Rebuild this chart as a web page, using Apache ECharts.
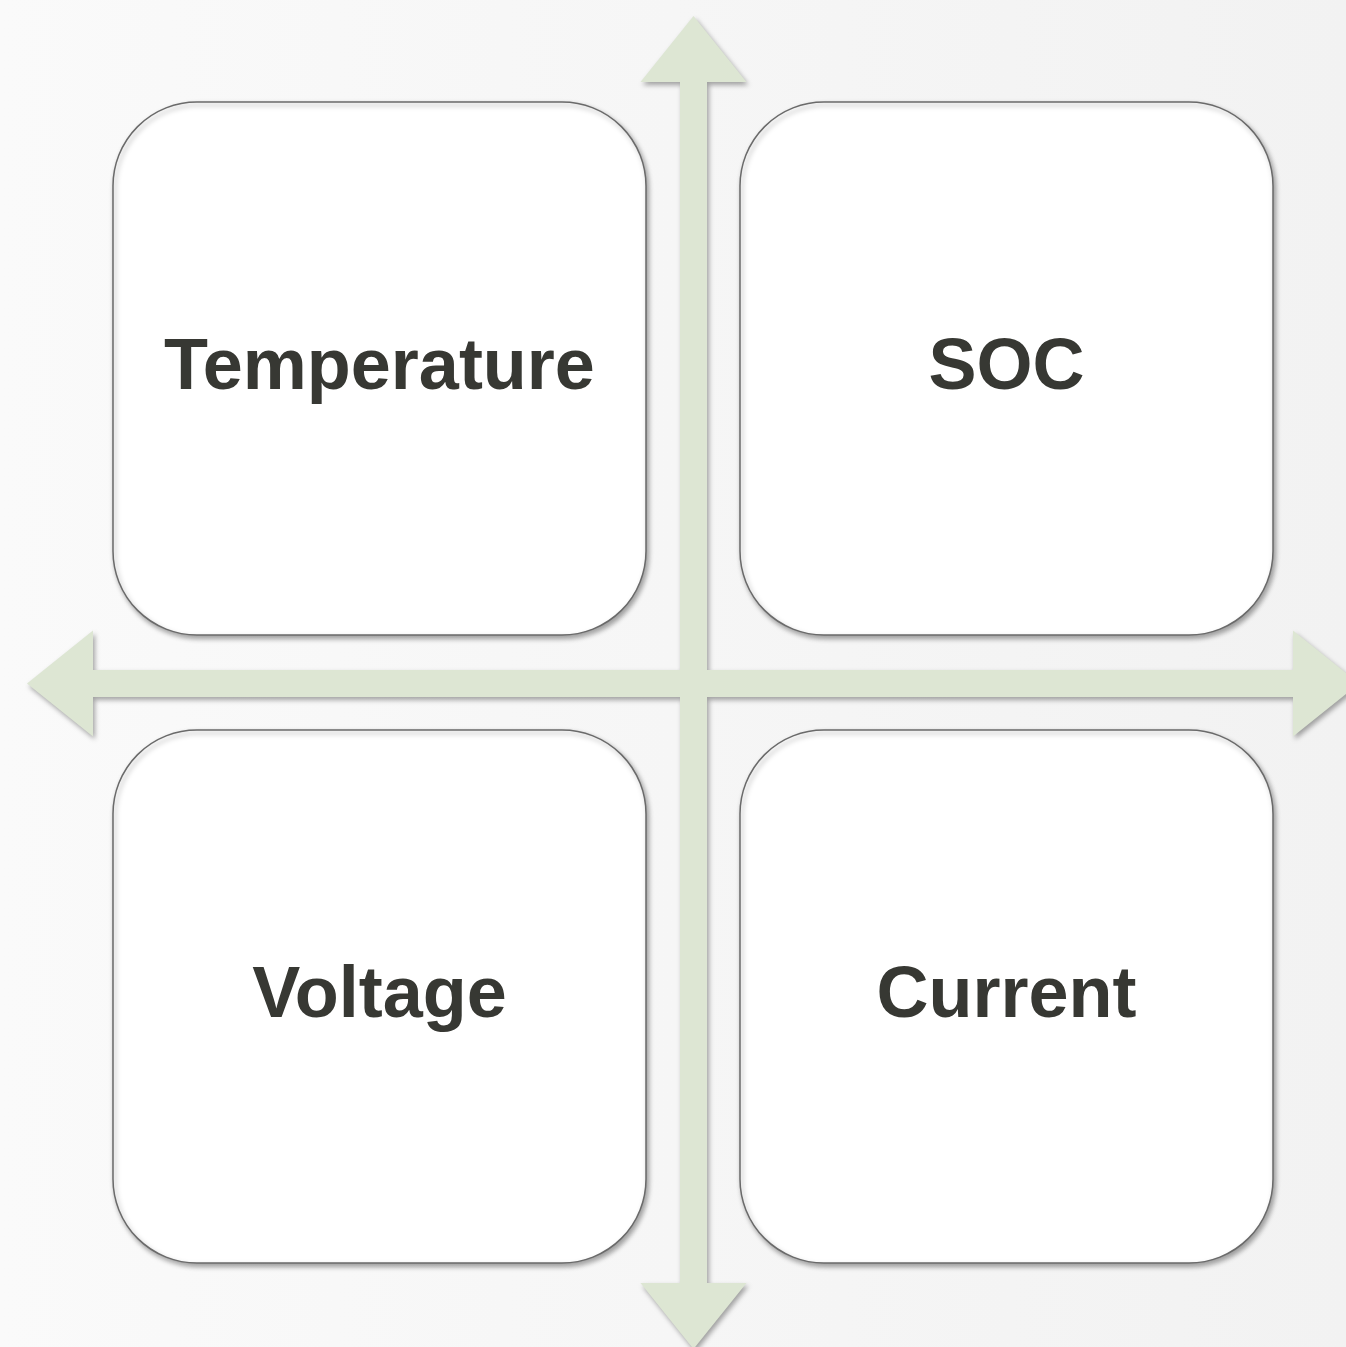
<!DOCTYPE html>
<html>
<head>
<meta charset="utf-8">
<script src="https://cdn.jsdelivr.net/npm/echarts@6/dist/echarts.min.js"></script>
<style>
html,body{margin:0;padding:0;}
#c{width:1346px;height:1347px;}
</style>
</head>
<body>
<div id="c"></div>
<script>
// Diagram content
const labels = ['Temperature', 'SOC', 'Voltage', 'Current'];
const cols = [0, 1, 0, 1];   // quadrant column
const rows = [0, 0, 1, 1];   // quadrant row

// Layout (pixel-space axes 0..1346)
const boxX = [113, 740];
const boxY = [102, 730];
const boxW = 533, boxH = 533, boxR = 84;
const crossX = 693.5, crossY = 683.5, shaftHalf = 13.5;
const headHalf = 53, headLen = 66;
const tipTop = 16, tipBottom = 1349, tipLeft = 27, tipRight = 1359;

const arrowColor = '#dde6d3';

const chart = echarts.init(document.getElementById('c'), null, {renderer: 'canvas'});

function arrowPts() {
  const cx = crossX, cy = crossY;
  const sL = cx - shaftHalf, sR = cx + shaftHalf, sT = cy - shaftHalf, sB = cy + shaftHalf;
  const hT = tipTop + headLen, hB = tipBottom - headLen, hL = tipLeft + headLen, hR = tipRight - headLen;
  return [
    [cx, tipTop], [cx + headHalf, hT], [sR, hT], [sR, sT],
    [hR, sT], [hR, cy - headHalf], [tipRight, cy], [hR, cy + headHalf], [hR, sB],
    [sR, sB], [sR, hB], [cx + headHalf, hB], [cx, tipBottom], [cx - headHalf, hB], [sL, hB],
    [sL, sB], [hL, sB], [hL, cy + headHalf], [tipLeft, cy], [hL, cy - headHalf], [hL, sT],
    [sL, sT], [sL, hT], [cx - headHalf, hT]
  ];
}

const option = {
  animation: false,
  backgroundColor: {
    type: 'linear', x: 0, y: 0, x2: 1, y2: 0,
    colorStops: [{offset: 0, color: '#fafafa'}, {offset: 1, color: '#f2f2f2'}]
  },
  grid: {left: 0, right: 0, top: 0, bottom: 0},
  xAxis: {type: 'value', min: 0, max: 1346, show: false},
  yAxis: {type: 'value', min: 0, max: 1347, inverse: true, show: false},
  series: [
    {
      type: 'custom',
      silent: true,
      data: [[0]],
      renderItem: function (params, api) {
        const pts = arrowPts().map(p => api.coord(p));
        return {
          type: 'polygon',
          shape: {points: pts},
          style: {
            fill: arrowColor,
            shadowBlur: 5, shadowOffsetX: 2, shadowOffsetY: 3,
            shadowColor: 'rgba(0,0,0,0.35)'
          }
        };
      }
    },
    {
      type: 'custom',
      silent: true,
      data: labels.map((l, i) => [cols[i], rows[i], l]),
      renderItem: function (params, api) {
        const c = api.value(0), r = api.value(1);
        const label = labels[params.dataIndex];
        const p0 = api.coord([boxX[c], boxY[r]]);
        const p1 = api.coord([boxX[c] + boxW, boxY[r] + boxH]);
        const w = p1[0] - p0[0], h = p1[1] - p0[1];
        return {
          type: 'group',
          children: [
            {
              type: 'rect',
              shape: {x: p0[0], y: p0[1], width: w, height: h, r: boxR},
              style: {
                fill: '#ffffff', stroke: '#6a6a6a', lineWidth: 1.5,
                shadowBlur: 5, shadowOffsetX: 2, shadowOffsetY: 3,
                shadowColor: 'rgba(0,0,0,0.35)'
              }
            },
            {
              type: 'text',
              style: {
                x: p0[0] + w / 2, y: p0[1] + h / 2 + 1,
                text: label,
                fill: '#373833',
                font: 'bold 72px "Liberation Sans", Arial, sans-serif',
                align: 'center', verticalAlign: 'middle'
              }
            }
          ]
        };
      }
    }
  ]
};
chart.setOption(option);
</script>
</body>
</html>
